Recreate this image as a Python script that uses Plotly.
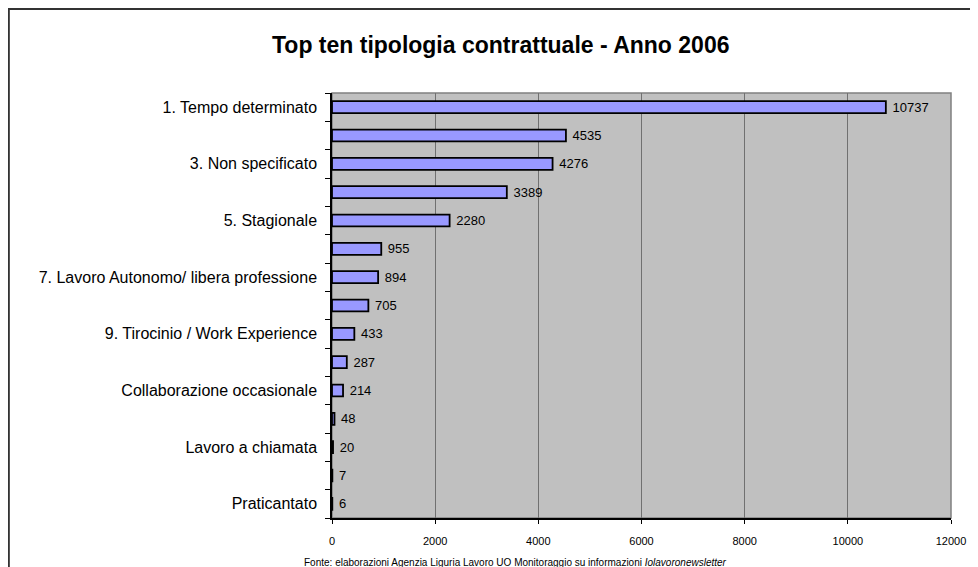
import plotly.graph_objects as go

# ==========================================================
# Dati
# ==========================================================

categorie = [f"c{i}" for i in range(1, 16)]

etichette = [
    "1. Tempo determinato",
    "",
    "3. Non specificato",
    "",
    "5. Stagionale",
    "",
    "7. Lavoro Autonomo/ libera professione",
    "",
    "9. Tirocinio / Work Experience",
    "",
    "Collaborazione occasionale",
    "",
    "Lavoro a chiamata",
    "",
    "Praticantato",
]

valori = [10737, 4535, 4276, 3389, 2280, 955, 894, 705, 433, 287, 214, 48, 20, 7, 6]

tick_x = [0, 2000, 4000, 6000, 8000, 10000, 12000]

FONT = "Liberation Sans, Arial, sans-serif"

# ==========================================================
# Grafico
# ==========================================================

fig = go.Figure()

fig.add_trace(
    go.Bar(
        x=valori,
        y=categorie,
        orientation="h",
        width=0.42,
        marker=dict(color="#9999FF", line=dict(color="black", width=1.8)),
        text=[f" {v}" for v in valori],
        textposition="outside",
        constraintext="none",
        textfont=dict(family=FONT, size=13, color="black"),
        cliponaxis=False,
        showlegend=False,
    )
)

# cornice esterna del grafico
fig.add_shape(
    type="rect",
    xref="paper", yref="paper",
    x0=-0.5225, x1=1.1,
    y0=-0.25, y1=1.198,
    line=dict(color="#333333", width=2.5),
    layer="below",
)

# bordo area del grafico
fig.add_shape(
    type="rect",
    xref="paper", yref="paper",
    x0=0, x1=1, y0=0, y1=1,
    line=dict(color="#808080", width=1.5),
    layer="below",
)

# la pagina ha un margine di 8px: figura ridotta di conseguenza
fig.update_layout(
    width=970,
    height=559,
    margin=dict(l=324, r=20, t=85, b=49),
    paper_bgcolor="white",
    plot_bgcolor="#C0C0C0",
    font=dict(family=FONT, color="black"),
    title=dict(
        text="<b>Top ten tipologia contrattuale - Anno 2006</b>",
        x=0.508,
        xanchor="center",
        y=0.934,
        yanchor="middle",
        font=dict(family=FONT, size=23, color="black"),
    ),
    xaxis=dict(
        range=[0, 12000],
        tickvals=tick_x,
        ticktext=[str(t) for t in tick_x],
        showgrid=True,
        gridcolor="#707070",
        gridwidth=1,
        zeroline=False,
        showline=True,
        linecolor="black",
        linewidth=1.5,
        ticks="outside",
        ticklen=4,
        tickcolor="black",
        ticklabelstandoff=8,
        tickfont=dict(family=FONT, size=11),
    ),
    yaxis=dict(
        type="category",
        categoryorder="array",
        categoryarray=categorie,
        autorange="reversed",
        tickmode="array",
        tickvals=categorie,
        ticktext=etichette,
        tickson="boundaries",
        showgrid=False,
        showline=True,
        linecolor="black",
        linewidth=1.5,
        ticks="outside",
        ticklen=5,
        tickcolor="black",
        ticklabelstandoff=10,
        tickfont=dict(family=FONT, size=16),
    ),
)

fig.add_annotation(
    text="Fonte: elaborazioni Agenzia Liguria Lavoro UO Monitoraggio su informazioni <i>Iolavoronewsletter</i>",
    xref="paper", yref="paper",
    x=-0.048, y=-0.104,
    xanchor="left", yanchor="middle",
    showarrow=False,
    font=dict(family=FONT, size=10, color="black"),
)

fig.write_html("out.html")
